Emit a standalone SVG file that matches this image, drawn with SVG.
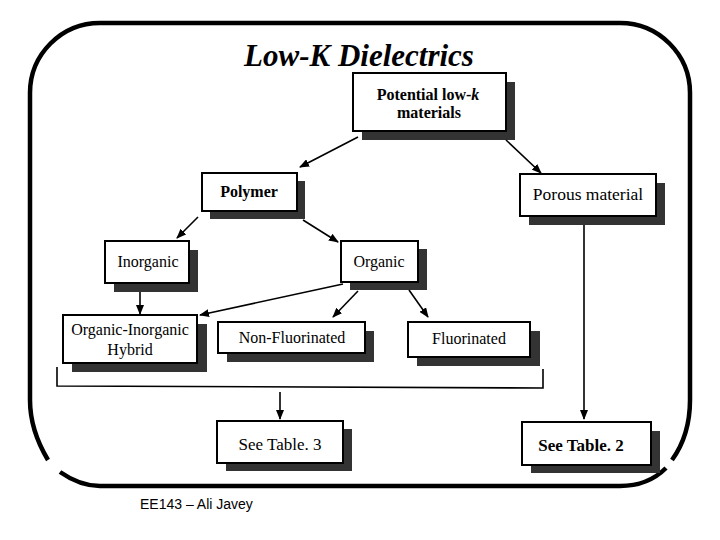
<svg xmlns="http://www.w3.org/2000/svg" width="720" height="540" viewBox="0 0 720 540">
<style>
.box{fill:#fff;stroke:#000;stroke-width:2}
.sh{fill:#333}
.t{font-family:"Liberation Serif","Times New Roman",serif;font-size:16px;fill:#000;text-anchor:middle}
.b{font-weight:bold}
.ln{stroke:#000;stroke-width:1.6;fill:none}
.frame{stroke:#000;stroke-width:4.5;fill:none}
</style>
<defs>
<marker id="ah" markerWidth="10" markerHeight="8" refX="9" refY="4" orient="auto" markerUnits="userSpaceOnUse">
<path d="M0,0 L10,4 L0,8 Z" fill="#000"/>
</marker>
</defs>
<rect width="720" height="540" fill="#fff"/>
<g id="frame">
<path class="frame" d="M48,460 Q30,430 30,400 L30,93 A70,70 0 0 1 100,23 L620,23 A70,70 0 0 1 690,93 L690,400 Q690,435 672,460"/>
<path class="frame" d="M60,472 Q80,486 100,486 L620,486 Q648,486 666,468"/>
</g>
<text x="359" y="66" font-family="Liberation Serif,'Times New Roman',serif" font-size="31" font-weight="bold" font-style="italic" text-anchor="middle">Low-K Dielectrics</text>
<g id="potential">
<rect class="sh" x="362" y="82" width="153" height="58"/>
<rect class="box" x="353" y="73" width="153" height="58"/>
<text class="t b" x="428" y="100">Potential low-<tspan font-style="italic">k</tspan></text>
<text class="t b" x="429" y="118">materials</text>
</g>
<g id="polymer">
<rect class="sh" x="210" y="181" width="95" height="38"/>
<rect class="box" x="202" y="173" width="95" height="38"/>
<text class="t b" x="249" y="197">Polymer</text>
</g>
<g id="porous">
<rect class="sh" x="529" y="183" width="136" height="42"/>
<rect class="box" x="520" y="174" width="136" height="42"/>
<text class="t" x="588" y="200" style="font-size:17.5px">Porous material</text>
</g>
<g id="inorganic">
<rect class="sh" x="114" y="250" width="84" height="42"/>
<rect class="box" x="105" y="241" width="84" height="42"/>
<text class="t" x="148" y="267">Inorganic</text>
</g>
<g id="organic">
<rect class="sh" x="350" y="249" width="77" height="41"/>
<rect class="box" x="341" y="241" width="77" height="41"/>
<text class="t" x="379" y="267">Organic</text>
</g>
<g id="hybrid">
<rect class="sh" x="72" y="324" width="135" height="48"/>
<rect class="box" x="63" y="315" width="134" height="48"/>
<text class="t" x="130" y="335">Organic-Inorganic</text>
<text class="t" x="130" y="355">Hybrid</text>
</g>
<g id="nonfluor">
<rect class="sh" x="227" y="331" width="147" height="31"/>
<rect class="box" x="218" y="322" width="147" height="31"/>
<text class="t" x="292" y="343">Non-Fluorinated</text>
</g>
<g id="fluor">
<rect class="sh" x="417" y="331" width="123" height="35"/>
<rect class="box" x="408" y="322" width="122" height="35"/>
<text class="t" x="469" y="344">Fluorinated</text>
</g>
<g id="table3">
<rect class="sh" x="226" y="429" width="126" height="42"/>
<rect class="box" x="217" y="421" width="126" height="42"/>
<text class="t" x="280" y="450" style="font-size:17px">See Table. 3</text>
</g>
<g id="table2">
<rect class="sh" x="531" y="431" width="129" height="42"/>
<rect class="box" x="522" y="422" width="129" height="43"/>
<text class="t b" x="581" y="451" style="font-size:17px">See Table. 2</text>
</g>
<g id="connectors">
<line class="ln" x1="358" y1="137" x2="300" y2="167" marker-end="url(#ah)"/>
<line class="ln" x1="506" y1="140" x2="541" y2="173" marker-end="url(#ah)"/>
<line class="ln" x1="198" y1="217" x2="177" y2="238" marker-end="url(#ah)"/>
<line class="ln" x1="303" y1="220" x2="338" y2="242" marker-end="url(#ah)"/>
<line class="ln" x1="140" y1="292" x2="140" y2="314" marker-end="url(#ah)"/>
<line class="ln" x1="343" y1="284" x2="200" y2="315" marker-end="url(#ah)"/>
<line class="ln" x1="358" y1="291" x2="333" y2="317" marker-end="url(#ah)"/>
<line class="ln" x1="409" y1="290" x2="428" y2="317" marker-end="url(#ah)"/>
<line class="ln" x1="584" y1="225" x2="584" y2="419" marker-end="url(#ah)"/>
<polyline class="ln" points="57,367 57,386 543,388 543,369"/>
<line class="ln" x1="280" y1="392" x2="280" y2="419" marker-end="url(#ah)"/>
</g>
<text x="140" y="509" font-family="Liberation Sans,Arial,sans-serif" font-size="14" fill="#000">EE143 – Ali Javey</text>
</svg>
